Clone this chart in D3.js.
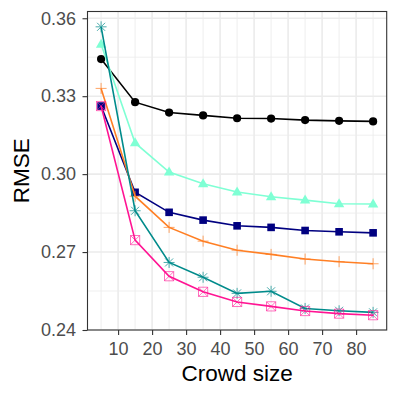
<!DOCTYPE html>
<html>
<head>
<meta charset="utf-8">
<script src="https://cdn.jsdelivr.net/npm/d3@7"></script>
<style>
  body { margin: 0; background: #fff; }
  svg { display: block; font-family: "Liberation Sans", Arial, sans-serif; }
</style>
</head>
<body>
<div id="chart"></div>
<script>
var crowdSizes = [5, 15, 25, 35, 45, 55, 65, 75, 85];

var blackSeries = [0.3443, 0.3277, 0.3237, 0.3226, 0.3215, 0.3214, 0.3208, 0.3205, 0.3203];
var aquaSeries  = [0.3500, 0.3120, 0.3008, 0.2963, 0.2931, 0.2913, 0.2900, 0.2886, 0.2885];
var navySeries  = [0.3262, 0.2930, 0.2853, 0.2823, 0.2801, 0.2795, 0.2783, 0.2778, 0.2774];
var orangeSeries = [0.3330, 0.2915, 0.2795, 0.2742, 0.2707, 0.2691, 0.2673, 0.2663, 0.2655];
var tealSeries  = [0.3567, 0.2859, 0.2660, 0.2603, 0.2541, 0.2549, 0.2483, 0.2474, 0.2468];
var pinkSeries  = [0.3262, 0.2746, 0.2607, 0.2547, 0.2508, 0.2491, 0.2473, 0.2463, 0.2457];

var xTicks = [10, 20, 30, 40, 50, 60, 70, 80];
var yTicks = [0.24, 0.27, 0.30, 0.33, 0.36];

var series = [
  { values: blackSeries,  color: "#000000", shape: "circle" },
  { values: aquaSeries,   color: "#7FFFD4", shape: "triangle" },
  { values: navySeries,   color: "#000080", shape: "square" },
  { values: orangeSeries, color: "#FF7F24", shape: "plus" },
  { values: tealSeries,   color: "#008B8B", shape: "asterisk" },
  { values: pinkSeries,   color: "#FF1493", shape: "boxcross" }
];

var svgWidth = 399, svgHeight = 399;
var margin = { top: 11.5, right: 12.3, bottom: 69, left: 87.5 };
var width = svgWidth - margin.left - margin.right;
var height = svgHeight - margin.top - margin.bottom;

var svg = d3.select("#chart").append("svg")
  .attr("width", svgWidth)
  .attr("height", svgHeight);

var g = svg.append("g")
  .attr("transform", "translate(" + margin.left + "," + margin.top + ")");

var x = d3.scaleLinear().domain([1, 89]).range([0, width]);
var y = d3.scaleLinear().domain([0.24, 0.3626]).range([height, 0]);

// grid: minor then major
var xMinor = d3.range(5, 90, 10);
var yMinor = [0.255, 0.285, 0.315, 0.345];

g.selectAll(".xminor").data(xMinor).enter().append("line")
  .attr("x1", d => x(d)).attr("x2", d => x(d))
  .attr("y1", 0).attr("y2", height)
  .attr("stroke", "#ebebeb").attr("stroke-width", 0.8);
g.selectAll(".yminor").data(yMinor).enter().append("line")
  .attr("y1", d => y(d)).attr("y2", d => y(d))
  .attr("x1", 0).attr("x2", width)
  .attr("stroke", "#ebebeb").attr("stroke-width", 0.8);
g.selectAll(".xmajor").data(xTicks).enter().append("line")
  .attr("x1", d => x(d)).attr("x2", d => x(d))
  .attr("y1", 0).attr("y2", height)
  .attr("stroke", "#ebebeb").attr("stroke-width", 1.6);
g.selectAll(".ymajor").data(yTicks).enter().append("line")
  .attr("y1", d => y(d)).attr("y2", d => y(d))
  .attr("x1", 0).attr("x2", width)
  .attr("stroke", "#ebebeb").attr("stroke-width", 1.6);

// lines and markers
var line = d3.line()
  .x((d, i) => x(crowdSizes[i]))
  .y(d => y(d));

series.forEach(function(s) {
  g.append("path")
    .datum(s.values)
    .attr("fill", "none")
    .attr("stroke", s.color)
    .attr("stroke-width", 1.6)
    .attr("d", line);

  var pts = g.append("g").selectAll("g")
    .data(s.values)
    .enter()
    .append("g")
    .attr("transform", (d, i) => "translate(" + x(crowdSizes[i]) + "," + y(d) + ")");

  if (s.shape === "circle") {
    pts.append("circle").attr("r", 4.1).attr("fill", s.color);
  } else if (s.shape === "triangle") {
    pts.append("path").attr("d", "M0,-5.6L5.2,3.4L-5.2,3.4Z").attr("fill", s.color);
  } else if (s.shape === "square") {
    pts.append("rect").attr("x", -3.8).attr("y", -3.8).attr("width", 7.6).attr("height", 7.6)
      .attr("fill", s.color);
  } else if (s.shape === "plus") {
    pts.append("path").attr("d", "M-5.5,0H5.5M0,-5.5V5.5")
      .attr("stroke", s.color).attr("stroke-width", 1).attr("opacity", 0.7);
  } else if (s.shape === "asterisk") {
    pts.append("path").attr("d", "M-5.5,0H5.5M0,-5.5V5.5M-4,-4L4,4M-4,4L4,-4")
      .attr("stroke", s.color).attr("stroke-width", 1).attr("opacity", 0.7);
  } else if (s.shape === "boxcross") {
    pts.append("path").attr("d", "M-4.6,-4.6H4.6V4.6H-4.6ZM-4.6,-4.6L4.6,4.6M-4.6,4.6L4.6,-4.6")
      .attr("fill", "none")
      .attr("stroke", s.color).attr("stroke-width", 1).attr("opacity", 0.6);
  }
});

// panel border
g.append("rect")
  .attr("width", width).attr("height", height)
  .attr("fill", "none").attr("stroke", "#333333").attr("stroke-width", 1.1);

// axes
var xAxis = g.append("g")
  .attr("transform", "translate(0," + height + ")")
  .call(d3.axisBottom(x).tickValues(xTicks).tickSize(5).tickPadding(7));
var yAxis = g.append("g")
  .call(d3.axisLeft(y).tickValues(yTicks).tickFormat(d3.format(".2f")).tickSize(5).tickPadding(6.5));

[xAxis, yAxis].forEach(function(a) {
  a.select(".domain").remove();
  a.selectAll(".tick line").attr("stroke", "#333333").attr("stroke-width", 1.1);
  a.selectAll(".tick text")
    .attr("fill", "#4d4d4d")
    .style("font-size", "18px")
    .style("font-family", "'Liberation Sans', Arial, sans-serif");
});

svg.append("text")
  .attr("x", margin.left + width / 2)
  .attr("y", 381)
  .attr("text-anchor", "middle")
  .style("font-size", "22.5px")
  .text("Crowd size");

svg.append("text")
  .attr("transform", "translate(28.5," + (margin.top + height / 2) + ") rotate(-90)")
  .attr("text-anchor", "middle")
  .style("font-size", "22.5px")
  .text("RMSE");
</script>
</body>
</html>
